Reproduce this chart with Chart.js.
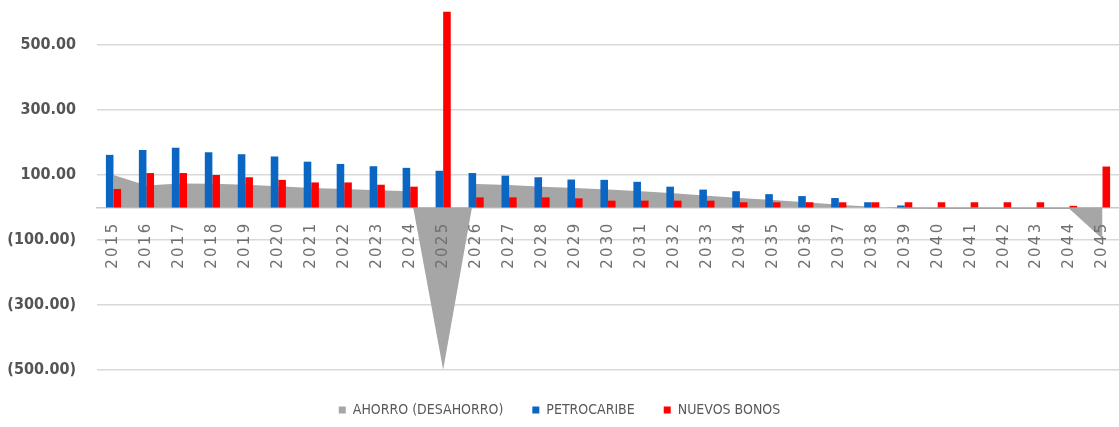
<!DOCTYPE html>
<html>
<head>
<meta charset="utf-8">
<script src="https://cdn.jsdelivr.net/npm/chart.js@4.4.1/dist/chart.umd.min.js"></script>
<style>
  html, body { margin: 0; padding: 0; background: #fff; }
  #wrap { width: 1119px; height: 427px; position: relative; }
</style>
</head>
<body>
<div id="wrap"><canvas id="ahorroChart"></canvas></div>
<script>
// years on the category axis
const years = ['2015', '2016', '2017', '2018', '2019', '2020', '2021', '2022', '2023', '2024',
  '2025', '2026', '2027', '2028', '2029', '2030', '2031', '2032', '2033', '2034',
  '2035', '2036', '2037', '2038', '2039', '2040', '2041', '2042', '2043', '2044', '2045'];

// AHORRO (DESAHORRO) - grey area
const ahorro = [100, 68, 74, 73, 70, 65, 60, 57, 53, 50,
  -500, 72, 69, 64, 60, 55, 50, 44, 36, 29,
  23, 16, 8, 2, -4, -5, -5, -5, -5, -5, -97];

// PETROCARIBE - blue bars
const petrocaribe = [162, 177, 184, 170, 164, 157, 141, 134, 127, 122,
  113, 106, 98, 93, 86, 85, 79, 64, 55, 50,
  41, 35, 29, 16, 6, 0, 0, 0, 0, 0, 0];

// NUEVOS BONOS - red bars
const nuevosBonos = [57, 106, 106, 100, 93, 85, 77, 77, 70, 64,
  603, 31, 31, 31, 28, 21, 21, 21, 21, 16,
  16, 16, 16, 16, 16, 16, 16, 16, 16, 5, 126];

// only the odd hundreds get a label and a gridline
const yTicks = [-500, -300, -100, 100, 300, 500];

// x labels are spaced out like in the original picture
const tickSpacing = {
  id: 'tickSpacing',
  beforeDraw(chart) { chart.ctx.letterSpacing = '0px'; },
  afterDatasetsDraw(chart) { chart.ctx.letterSpacing = '2.3px'; },
  afterDraw(chart) { chart.ctx.letterSpacing = '0px'; }
};

const ctx = document.getElementById('ahorroChart').getContext('2d');

const ahorroChart = new Chart(ctx, {
  type: 'bar',
  data: {
    labels: years,
    datasets: [
      {
        type: 'line',
        label: 'AHORRO (DESAHORRO)',
        data: ahorro,
        backgroundColor: '#a6a6a6',
        borderColor: '#a6a6a6',
        borderWidth: 0,
        pointRadius: 0,
        tension: 0,
        fill: 'origin',
        order: 2
      },
      {
        label: 'PETROCARIBE',
        data: petrocaribe,
        backgroundColor: '#0b65c2',
        borderWidth: 0,
        categoryPercentage: 0.46,
        barPercentage: 1.0,
        order: 1
      },
      {
        label: 'NUEVOS BONOS',
        data: nuevosBonos,
        backgroundColor: '#ff0000',
        borderWidth: 0,
        categoryPercentage: 0.46,
        barPercentage: 1.0,
        order: 1
      }
    ]
  },
  options: {
    responsive: true,
    maintainAspectRatio: false,
    animation: false,
    layout: { padding: 0 },
    plugins: {
      tooltip: { enabled: false },
      legend: {
        position: 'bottom',
        labels: {
          sort: (a, b) => a.datasetIndex - b.datasetIndex,
          boxWidth: 7,
          boxHeight: 7,
          padding: 29,
          color: '#595959',
          font: { family: "'DejaVu Sans Condensed', 'DejaVu Sans', sans-serif", size: 14 }
        }
      }
    },
    scales: {
      x: {
        position: { y: 0 },
        grid: { display: false, drawTicks: false },
        border: { display: true, color: '#c8c8c8', width: 1.5 },
        ticks: {
          z: 1,
          autoSkip: false,
          minRotation: 90,
          maxRotation: 90,
          padding: 14,
          color: '#707070',
          font: { family: "'DejaVu Sans', sans-serif", size: 15 }
        },
        afterFit(scale) {
          scale.paddingLeft = 0;
          scale.paddingRight = 0;
        }
      },
      y: {
        min: -513,
        max: 639,
        afterBuildTicks(scale) {
          scale.ticks = yTicks.map(v => ({ value: v }));
        },
        afterFit(scale) {
          scale.width = 97;
          scale.paddingTop = 0;
          scale.paddingBottom = 0;
        },
        grid: { color: '#d9d9d9', lineWidth: 1.5, drawTicks: false },
        border: { display: false },
        ticks: {
          padding: 21,
          color: '#555555',
          font: { family: "'DejaVu Sans Condensed', 'DejaVu Sans', sans-serif", size: 16, weight: 'bold' },
          callback: function(value) {
            return value < 0 ? '(' + Math.abs(value).toFixed(2) + ')' : value.toFixed(2);
          }
        }
      }
    }
  },
  plugins: [tickSpacing]
});
</script>
</body>
</html>
